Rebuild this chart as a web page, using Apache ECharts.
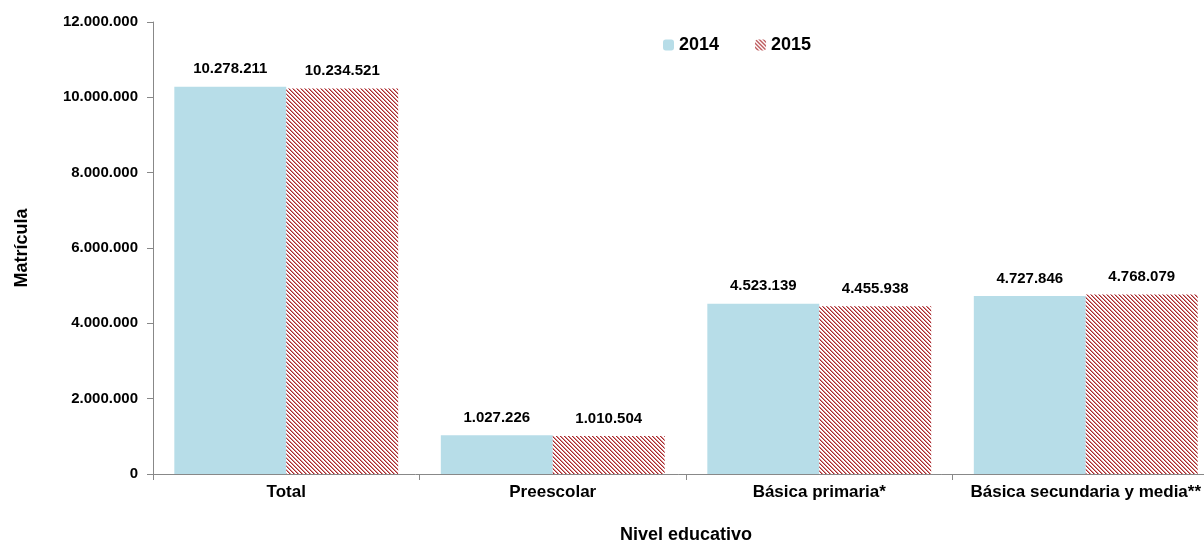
<!DOCTYPE html>
<html>
<head>
<meta charset="utf-8">
<script src="https://cdn.jsdelivr.net/npm/echarts@6/dist/echarts.min.js"></script>
<style>
html, body { margin: 0; padding: 0; background: #fff; }
#chart { width: 1204px; height: 544px; }
</style>
</head>
<body>
<div id="chart"></div>
<script>
// datos
var niveles = ['Total', 'Preescolar', 'Básica primaria*', 'Básica secundaria y media**'];
var anios = ['2014', '2015'];
var matricula2014 = [10278211, 1027226, 4523139, 4727846];
var matricula2015 = [10234521, 1010504, 4455938, 4768079];

function miles(v) {
    return String(v).replace(/\B(?=(\d{3})+(?!\d))/g, '.');
}

// trama rayada para 2015
var trama = document.createElement('canvas');
trama.width = 4; trama.height = 4;
var ctx = trama.getContext('2d');
ctx.fillStyle = '#ffffff';
ctx.fillRect(0, 0, 4, 4);
for (var i = 0; i < 4; i++) {
    ctx.fillStyle = '#a52a2e';
    ctx.fillRect(i, i, 1, 1);
    ctx.fillStyle = '#d98c8e';
    ctx.fillRect((i + 1) % 4, i, 1, 1);
}

var myChart = echarts.init(document.getElementById('chart'));
var fuente = 'Liberation Sans, Arial, sans-serif';

var option = {
    animation: false,
    textStyle: { fontFamily: fuente },
    legend: {
        data: anios,
        left: 658,
        top: 31,
        itemWidth: 11,
        itemHeight: 11,
        itemGap: 36,
        textStyle: { fontSize: 18, fontWeight: 'bold', color: '#000', fontFamily: fuente }
    },
    grid: { left: 153, top: 22, width: 1066, height: 452, containLabel: false, outerBoundsMode: 'none' },
    xAxis: {
        type: 'category',
        data: niveles,
        name: 'Nivel educativo',
        nameLocation: 'middle',
        nameGap: 52,
        nameTextStyle: { fontSize: 18, fontWeight: 'bold', color: '#000' },
        axisLine: { lineStyle: { color: '#888' } },
        axisTick: { show: true, length: 6, lineStyle: { color: '#888' } },
        axisLabel: { interval: 0, fontSize: 17, fontWeight: 'bold', color: '#000', margin: 10 }
    },
    yAxis: {
        type: 'value',
        min: 0,
        max: 12000000,
        interval: 2000000,
        name: 'Matrícula',
        nameLocation: 'middle',
        nameGap: 122,
        nameTextStyle: { fontSize: 18, fontWeight: 'bold', color: '#000' },
        axisLine: { show: true, lineStyle: { color: '#888' } },
        axisTick: { show: true, length: 6, lineStyle: { color: '#888' } },
        splitLine: { show: false },
        axisLabel: {
            fontSize: 15, fontWeight: 'bold', color: '#000', margin: 15,
            formatter: function (v) { return miles(v); }
        }
    },
    series: [
        {
            name: '2014',
            type: 'bar',
            data: matricula2014,
            barGap: '0%',
            barCategoryGap: '16%',
            itemStyle: { color: '#b7dde8' },
            label: {
                show: true, position: 'top', distance: 10,
                fontSize: 15, fontWeight: 'bold', color: '#000',
                formatter: function (p) { return miles(p.value); }
            }
        },
        {
            name: '2015',
            type: 'bar',
            data: matricula2015,
            barGap: '0%',
            barCategoryGap: '16%',
            itemStyle: { color: { image: trama, repeat: 'repeat' } },
            label: {
                show: true, position: 'top', distance: 10,
                fontSize: 15, fontWeight: 'bold', color: '#000',
                formatter: function (p) { return miles(p.value); }
            }
        }
    ]
};

myChart.setOption(option);
</script>
</body>
</html>
